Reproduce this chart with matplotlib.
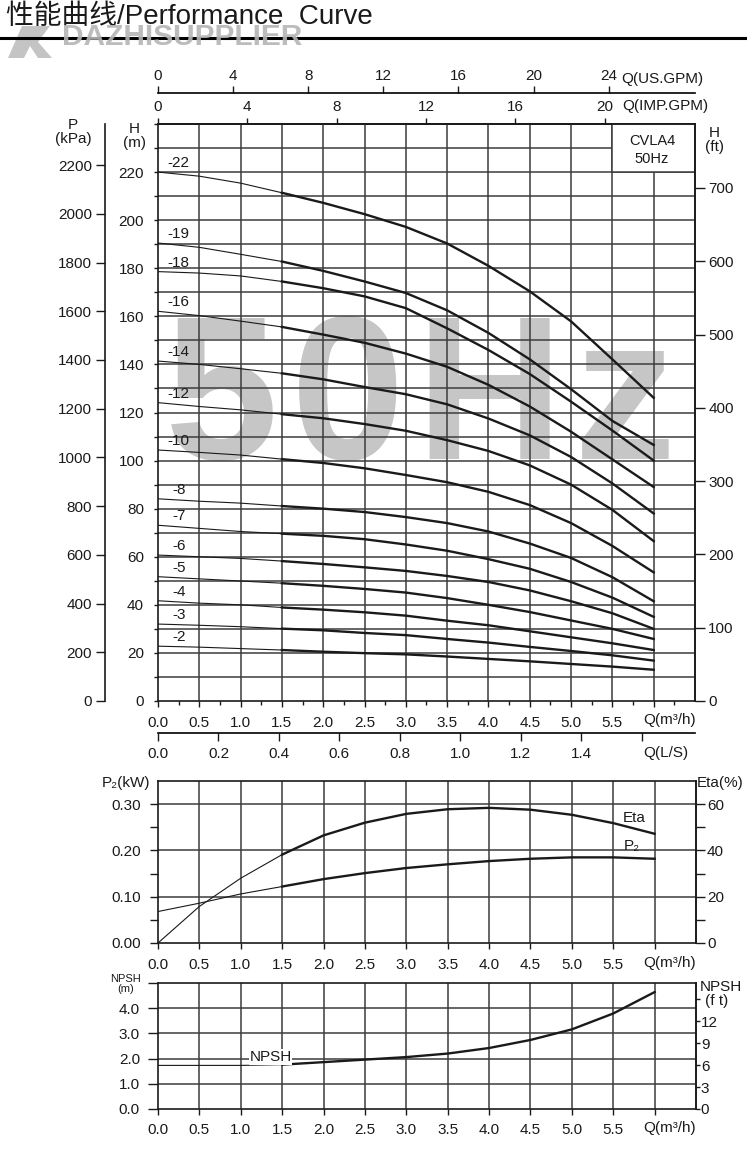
import numpy as np
import matplotlib.pyplot as plt
from matplotlib.patches import Rectangle, Polygon
from matplotlib.lines import Line2D

plt.rcParams['font.family'] = ['Liberation Sans', 'DejaVu Sans', 'Noto Sans CJK SC']

# ---- data ----
q = [0.0, 0.5, 1.0, 1.5, 2.0, 2.5, 3.0, 3.5, 4.0, 4.5, 5.0, 5.5, 6.0]   # m3/h

stages = ['-22', '-19', '-18', '-16', '-14', '-12', '-10', '-8', '-7', '-6', '-5', '-4', '-3', '-2']
head = {
    '-22': [220.0, 218.3, 215.4, 211.4, 207.2, 202.5, 197.2, 190.3, 181.0, 170.4, 157.9, 142.1, 126.1],
    '-19': [190.5, 188.7, 185.8, 182.8, 178.9, 174.5, 169.7, 162.5, 153.1, 142.1, 129.7, 116.5, 106.5],
    '-18': [178.6, 178.0, 176.8, 174.5, 171.7, 168.3, 163.4, 155.0, 146.0, 136.0, 124.5, 112.5, 100.0],
    '-16': [162.1, 160.3, 158.0, 155.6, 152.4, 149.0, 144.5, 139.0, 131.5, 122.5, 112.0, 100.5, 89.0],
    '-14': [141.4, 140.0, 138.2, 136.3, 133.8, 130.6, 127.6, 123.4, 117.5, 110.5, 101.5, 90.5, 78.0],
    '-12': [124.1, 122.5, 121.1, 119.3, 117.6, 115.2, 112.4, 108.5, 104.0, 98.0, 90.0, 79.5, 66.5],
    '-10': [104.4, 103.4, 102.3, 100.6, 99.0, 96.8, 94.0, 91.0, 87.0, 81.5, 74.0, 64.5, 53.5],
    '-8': [84.1, 83.1, 82.3, 81.1, 80.0, 78.6, 76.5, 74.0, 70.5, 65.5, 59.5, 51.5, 41.5],
    '-7': [73.1, 71.8, 70.5, 69.6, 68.7, 67.3, 65.1, 62.5, 59.0, 55.0, 49.5, 43.0, 35.0],
    '-6': [60.7, 60.0, 59.3, 58.2, 57.0, 55.6, 54.1, 52.0, 49.5, 46.0, 41.5, 36.5, 30.0],
    '-5': [51.7, 50.8, 49.9, 49.0, 47.9, 46.6, 45.1, 42.8, 40.0, 37.0, 33.5, 30.0, 25.8],
    '-4': [41.7, 40.7, 40.0, 38.9, 38.0, 36.9, 35.5, 33.4, 31.5, 29.0, 26.5, 24.0, 21.2],
    '-3': [32.0, 31.5, 30.9, 30.1, 29.4, 28.3, 27.4, 25.8, 24.3, 22.5, 20.8, 19.0, 16.8],
    '-2': [22.8, 22.4, 21.8, 21.2, 20.5, 19.9, 19.4, 18.5, 17.5, 16.5, 15.4, 14.3, 13.0],
}

eta = [0.0, 15.8, 28.0, 38.2, 46.5, 52.0, 55.8, 57.8, 58.4, 57.6, 55.4, 51.8, 47.2]          # %
p2 = [0.068, 0.086, 0.106, 0.122, 0.138, 0.151, 0.162, 0.170, 0.177, 0.182, 0.185, 0.185, 0.182]  # kW
npsh = [1.73, 1.73, 1.73, 1.76, 1.86, 1.96, 2.06, 2.20, 2.42, 2.74, 3.16, 3.79, 4.64]      # m

# unit factors as drawn on the chart
KPA_PER_M = 9.87
FT_PER_M = 3.28
USGPM_PER_M3H = 4.40
IMPGPM_PER_M3H = 3.70
M3H_PER_LS = 3.66
NPSH_FT_PER_M = 3.45

W, HP = 747, 1155
INK = '#1a1a1a'
GRID = '#3c3c3c'
FS = 11

fig = plt.figure(figsize=(W / 100, HP / 100), dpi=100)


def box(x0, y0, x1, y1):
    return [x0 / W, 1 - y1 / HP, (x1 - x0) / W, (y1 - y0) / HP]


def ftext(x, y, s, **kw):
    kw.setdefault('fontsize', FS)
    kw.setdefault('color', INK)
    fig.text(x / W, 1 - y / HP, s, **kw)


def split_plot(a, x, y, **kw):
    # thin line before 1.5 m3/h, thick after
    a.plot(x[:4], y[:4], color=INK, lw=0.8, zorder=3, **kw)
    a.plot(x[3:], y[3:], color=INK, lw=1.7, zorder=3, **kw)


def style_spines(a, lw=1.2):
    for s in a.spines.values():
        s.set_linewidth(lw)
        s.set_color(INK)


# ---- header ----
ftext(6, 17, '性能曲线/Performance  Curve', fontsize=20, ha='left', va='center')
logo = Polygon([(8 / W, 1 - 58 / HP), (22 / W, 1 - 26 / HP), (50 / W, 1 - 26 / HP),
                (38 / W, 1 - 42 / HP), (52 / W, 1 - 58 / HP), (38 / W, 1 - 58 / HP),
                (30 / W, 1 - 46 / HP), (24 / W, 1 - 58 / HP)],
               closed=True, transform=fig.transFigure, facecolor='#c4c4c4', edgecolor='none')
fig.add_artist(logo)
fig.add_artist(Line2D([0, 1], [1 - 38 / HP, 1 - 38 / HP], transform=fig.transFigure,
                      color='black', lw=2.2))
ftext(62, 37, 'DAZHISUPPLIER', fontsize=21.5, fontweight='bold', color='#b5b5b5',
      ha='left', va='center', alpha=0.9)

# ---- main head chart ----
ax = fig.add_axes(box(158, 124, 695, 701))
ax.set_xlim(0, 6.5)
ax.set_ylim(0, 240)
style_spines(ax)

for v in np.arange(0.5, 6.01, 0.5):
    ax.axvline(v, color=GRID, lw=1.1, zorder=1)
for h in range(10, 240, 10):
    ax.axhline(h, color=GRID, lw=1.1, zorder=1)
ax.add_patch(Rectangle((5.5, 220), 1.0, 20, facecolor='white', edgecolor=GRID, lw=1.1, zorder=1.5))
ax.text(5.98, 229.2, 'CVLA4\n50Hz', ha='center', va='center', fontsize=10.5, linespacing=1.4,
        color=INK, zorder=2)

# big watermark behind the grid
for ch, xq in zip(['5', '0', 'H', 'z'], [0.773, 2.295, 4.01, 5.65]):
    ax.text(xq, 100.6, ch, fontsize=147, fontweight='bold', color='#c6c6c6',
            ha='center', va='baseline', zorder=0.3)

for st in stages:
    split_plot(ax, q, head[st])
    ax.text(0.25, head[st][0] + 0.8, st, ha='center', va='bottom', fontsize=11, color=INK, zorder=4)

xt = np.arange(0, 6.01, 0.5)
ax.set_xticks(xt)
ax.set_xticklabels(['%.1f' % v for v in xt[:-1]] + [''])
ax.set_xticks(np.arange(0.25, 6.5, 0.5), minor=True)
ax.tick_params(axis='x', which='major', length=4, width=1, pad=7, labelsize=FS, colors=INK)
ax.tick_params(axis='x', which='minor', length=3, width=1, colors=INK)
yt = list(range(0, 241, 10))
ax.set_yticks(yt)
ax.set_yticklabels([str(v) if v % 20 == 0 and v <= 220 else '' for v in yt])
ax.tick_params(axis='y', length=3, width=1, pad=7, labelsize=FS, colors=INK)
ftext(643, 720, 'Q(m³/h)', ha='left', va='center')
ftext(134, 136, 'H\n(m)', ha='center', va='center', linespacing=1.0)

# right axis: feet
ax_ft = ax.twinx()
ax_ft.set_ylim(0, 240 * FT_PER_M)
for s in ['left', 'top', 'bottom']:
    ax_ft.spines[s].set_visible(False)
style_spines(ax_ft)
ax_ft.set_yticks(range(0, 701, 100))
ax_ft.tick_params(axis='y', length=7, width=1, pad=2.5, labelsize=FS, colors=INK)
ftext(714, 140, 'H\n(ft)', ha='center', va='center', linespacing=1.0)

# far-left axis: kPa
ax_p = ax.twinx()
ax_p.set_ylim(0, 240 * KPA_PER_M)
for s in ['right', 'top', 'bottom']:
    ax_p.spines[s].set_visible(False)
ax_p.spines['left'].set_visible(True)
ax_p.spines['left'].set_position(('outward', 53 * 0.72))
ax_p.spines['left'].set_linewidth(1.2)
ax_p.spines['left'].set_color(INK)
ax_p.yaxis.tick_left()
ax_p.set_yticks(range(0, 2201, 200))
ax_p.tick_params(axis='y', length=6.5, width=1, pad=3, labelsize=FS, colors=INK)
ftext(73, 132, 'P\n(kPa)', ha='center', va='center', linespacing=1.0)

# top flow scales
top_imp = ax.secondary_xaxis('top', functions=(lambda x: x * IMPGPM_PER_M3H,
                                               lambda x: x / IMPGPM_PER_M3H))
top_imp.set_xticks(range(0, 21, 4))
top_imp.tick_params(length=4.5, width=1, pad=3, labelsize=FS, colors=INK)
top_imp.spines['top'].set_linewidth(1.2)
ftext(622, 106, 'Q(IMP.GPM)', ha='left', va='center')

top_us = ax.secondary_xaxis(1 + 31 / 577, functions=(lambda x: x * USGPM_PER_M3H,
                                                     lambda x: x / USGPM_PER_M3H))
top_us.set_xticks(range(0, 25, 4))
top_us.tick_params(length=5, width=1, pad=2, labelsize=FS, colors=INK)
top_us.spines['top'].set_linewidth(1.2)
ftext(621, 79, 'Q(US.GPM)', ha='left', va='center')

bot_ls = ax.secondary_xaxis(-32 / 577, functions=(lambda x: x / M3H_PER_LS,
                                                  lambda x: x * M3H_PER_LS))
ls_t = [0.0, 0.2, 0.4, 0.6, 0.8, 1.0, 1.2, 1.4, 1.6]
bot_ls.set_xticks(ls_t)
bot_ls.set_xticklabels(['%.1f' % v for v in ls_t[:-1]] + [''])
bot_ls.tick_params(length=6, width=1, pad=4, labelsize=FS, colors=INK)
bot_ls.spines['bottom'].set_linewidth(1.2)
ftext(643, 753, 'Q(L/S)', ha='left', va='center')

# ---- power / efficiency panel ----
ax1 = fig.add_axes(box(158, 781, 696, 943))
ax1.set_xlim(0, 6.5)
ax1.set_ylim(0, 0.35)
style_spines(ax1)
for v in np.arange(0.5, 6.01, 0.5):
    ax1.axvline(v, color=GRID, lw=1.1, zorder=1)
for h in [0.1, 0.2, 0.3]:
    ax1.axhline(h, color=GRID, lw=1.1, zorder=1)
ax1.set_xticks(xt)
ax1.set_xticklabels(['%.1f' % v for v in xt[:-1]] + [''])
ax1.tick_params(axis='x', length=4, width=1, pad=7, labelsize=FS, colors=INK)
ax1.set_yticks([0, 0.1, 0.2, 0.3])
ax1.set_yticklabels(['0.00', '0.10', '0.20', '0.30'])
ax1.set_yticks([0.05, 0.15, 0.25], minor=True)
ax1.tick_params(axis='y', which='both', length=6, width=1, pad=6, labelsize=FS, colors=INK)
split_plot(ax1, q, p2)
ax1.text(5.73, 0.210, 'P₂', ha='center', va='center', fontsize=FS, color=INK)

ax1r = ax1.twinx()
ax1r.set_ylim(0, 70)
for s in ['left', 'top', 'bottom']:
    ax1r.spines[s].set_visible(False)
style_spines(ax1r)
ax1r.set_yticks([0, 20, 40, 60])
ax1r.set_yticks([10, 30, 50], minor=True)
ax1r.tick_params(axis='y', which='both', length=6.5, width=1, pad=1.5, labelsize=FS, colors=INK)
split_plot(ax1r, q, eta)
ax1r.text(5.75, 54.0, 'Eta', ha='center', va='center', fontsize=FS, color=INK)
ftext(126, 783, 'P₂(kW)', ha='center', va='center')
ftext(697, 783, 'Eta(%)', ha='left', va='center')
ftext(643, 963, 'Q(m³/h)', ha='left', va='center')

# ---- NPSH panel ----
ax2 = fig.add_axes(box(158, 983, 696, 1109))
ax2.set_xlim(0, 6.5)
ax2.set_ylim(0, 5)
style_spines(ax2)
for v in np.arange(0.5, 6.01, 0.5):
    ax2.axvline(v, color=GRID, lw=1.1, zorder=1)
for h in [1, 2, 3, 4]:
    ax2.axhline(h, color=GRID, lw=1.1, zorder=1)
ax2.set_xticks(xt)
ax2.set_xticklabels(['%.1f' % v for v in xt[:-1]] + [''])
ax2.tick_params(axis='x', length=4, width=1, pad=6, labelsize=FS, colors=INK)
ax2.set_yticks([0, 1, 2, 3, 4, 5])
ax2.set_yticklabels(['0.0', '1.0', '2.0', '3.0', '4.0', ''])
ax2.tick_params(axis='y', length=7, width=1, pad=6, labelsize=FS, colors=INK)
split_plot(ax2, q, npsh)
ax2.text(1.36, 2.06, 'NPSH', ha='center', va='center', fontsize=FS, color=INK, zorder=4,
         bbox=dict(facecolor='white', edgecolor='none', pad=0.5))

ax2r = ax2.twinx()
ax2r.set_ylim(0, 5 * NPSH_FT_PER_M)
for s in ['left', 'top', 'bottom']:
    ax2r.spines[s].set_visible(False)
style_spines(ax2r)
ax2r.set_yticks([0, 3, 6, 9, 12, 15])
ax2r.set_yticklabels(['0', '3', '6', '9', '12', ''])
ax2r.tick_params(axis='y', length=3, width=1, pad=0.5, labelsize=FS, colors=INK)
ftext(126, 984, 'NPSH\n(m)', ha='center', va='center', fontsize=8, linespacing=0.9)
ftext(700, 987, 'NPSH', ha='left', va='center')
ftext(705, 1001, '(f t)', ha='left', va='center')
ftext(643, 1128, 'Q(m³/h)', ha='left', va='center')

fig.savefig('out.png', dpi=100)
